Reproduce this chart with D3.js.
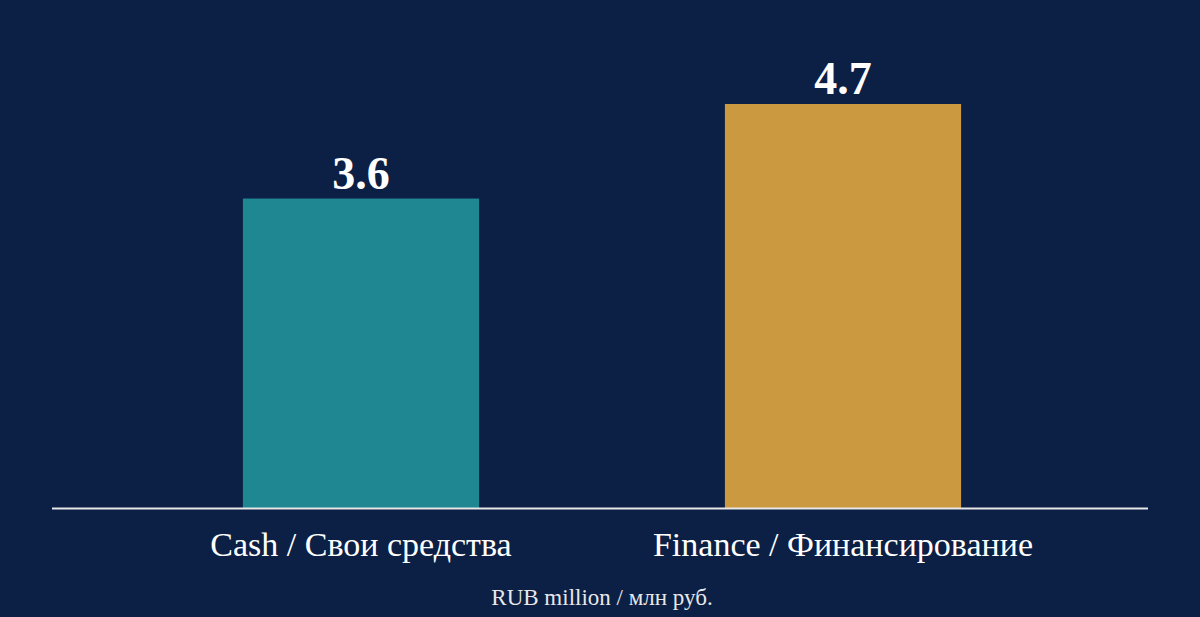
<!DOCTYPE html>
<html><head><meta charset="utf-8">
<script src="https://cdn.jsdelivr.net/npm/d3@7"></script>
<style>html,body{margin:0;padding:0;background:#0c1f45;}</style>
</head><body>
<svg id="c" width="1200" height="617"></svg>
<script>
const categories = ["Cash / Свои средства", "Finance / Финансирование"];
const values = [3.6, 4.7];
const colors = ["#1e8791", "#cb9a40"];
const unitLabel = "RUB million / млн руб.";

const svg = d3.select("#c");
svg.append("rect").attr("width",1200).attr("height",617).attr("fill","#0c1f45");
const x = d3.scaleBand().domain(categories).range([120,1084]).paddingInner(0.51).paddingOuter(0.255);
const y = d3.scaleLinear().domain([0,4.7]).range([508,104]);

svg.selectAll(".bar").data(values).join("rect")
  .attr("x",(d,i)=>x(categories[i])).attr("width",x.bandwidth())
  .attr("y",d=>y(d)).attr("height",d=>y(0)-y(d)).attr("fill",(d,i)=>colors[i]);

svg.selectAll(".val").data(values).join("text")
  .attr("x",(d,i)=>x(categories[i])+x.bandwidth()/2).attr("y",d=>y(d)-10)
  .attr("text-anchor","middle").attr("fill","#fff")
  .attr("font-family","Liberation Serif, DejaVu Serif, serif").attr("font-weight","bold")
  .attr("font-size",46).text(d=>d.toFixed(1));

svg.append("line").attr("x1",52).attr("x2",1148).attr("y1",508.5).attr("y2",508.5)
  .attr("stroke","#e8e8e8").attr("stroke-width",2);

svg.selectAll(".cat").data(categories).join("text")
  .attr("x",d=>x(d)+x.bandwidth()/2).attr("y",556)
  .attr("text-anchor","middle").attr("fill","#fff")
  .attr("font-family","Liberation Serif, DejaVu Serif, serif")
  .attr("font-size",34).text(d=>d);

svg.append("text").attr("x",602).attr("y",605).attr("text-anchor","middle")
  .attr("fill","#e8e8e8").attr("font-family","Liberation Serif, DejaVu Serif, serif")
  .attr("font-size",23).text(unitLabel);
</script>
</body></html>
